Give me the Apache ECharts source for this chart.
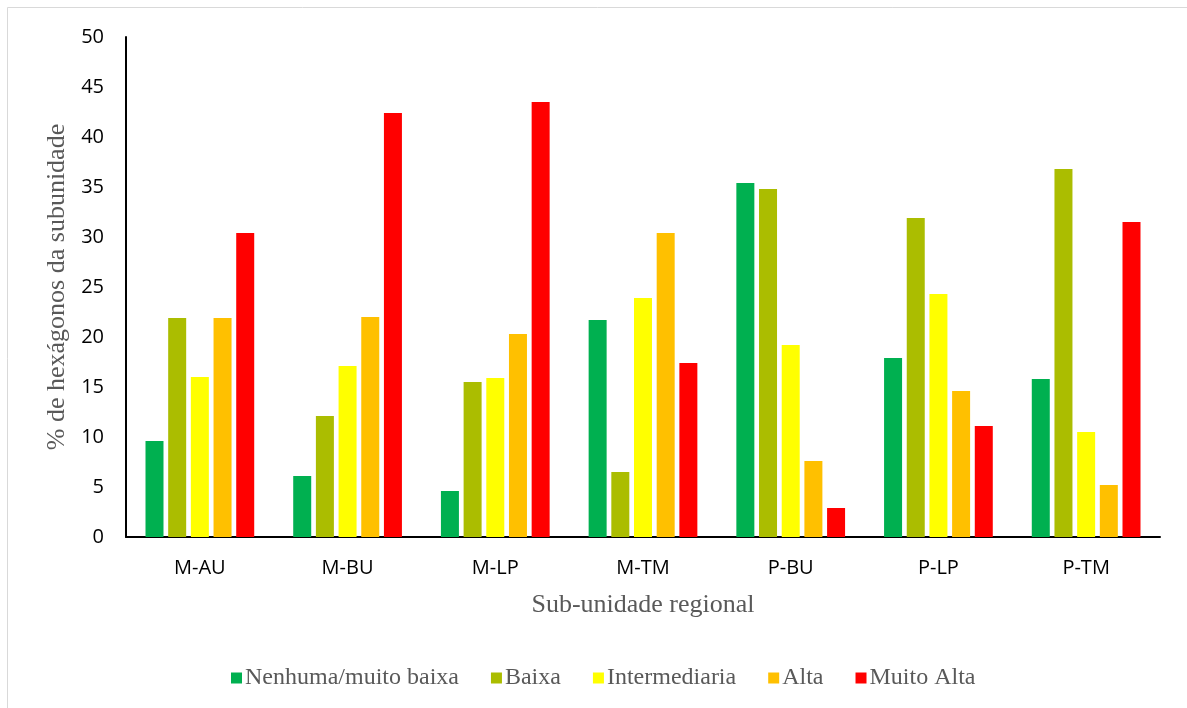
<!DOCTYPE html>
<html>
<head>
<meta charset="utf-8">
<script src="https://cdn.jsdelivr.net/npm/echarts@6/dist/echarts.min.js"></script>
<style>
  html, body { margin: 0; padding: 0; background: #fff; }
  #chart { width: 1187px; height: 708px; }
</style>
</head>
<body>
<div id="chart"></div>
<script>
// Sub-regional units on the horizontal axis
const categories = ['M-AU', 'M-BU', 'M-LP', 'M-TM', 'P-BU', 'P-LP', 'P-TM'];

// Share of hexagons (%) per class in each sub-unit
const nenhumaMuitoBaixa = [9.6, 6.1, 4.6, 21.7, 35.4, 17.9, 15.8];
const baixa             = [21.9, 12.1, 15.5, 6.5, 34.8, 31.9, 36.8];
const intermediaria     = [16.0, 17.1, 15.9, 23.9, 19.2, 24.3, 10.5];
const alta              = [21.9, 22.0, 20.3, 30.4, 7.6, 14.6, 5.2];
const muitoAlta         = [30.4, 42.4, 43.5, 17.4, 2.9, 11.1, 31.5];

const seriesNames = ['Nenhuma/muito baixa', 'Baixa', 'Intermediaria', 'Alta', 'Muito Alta'];
const seriesValues = [nenhumaMuitoBaixa, baixa, intermediaria, alta, muitoAlta];
const seriesColors = ['#00b050', '#abbd00', '#ffff00', '#ffc000', '#ff0000'];

const chart = echarts.init(document.getElementById('chart'), null, { renderer: 'canvas' });

const sansFont = '"Open Sans", "DejaVu Sans", sans-serif';
const serifFont = '"Liberation Serif", "DejaVu Serif", serif';

chart.setOption({
  animation: false,
  backgroundColor: '#ffffff',
  graphic: [{
    type: 'rect',
    shape: { x: 7.5, y: 7.5, width: 1190, height: 710 },
    style: { fill: 'none', stroke: '#d9d9d9', lineWidth: 1 },
    silent: true
  }],
  grid: { left: 126, right: 27, top: 37, bottom: 171, containLabel: false },
  legend: {
    data: seriesNames,
    left: 226,
    top: 661,
    itemWidth: 11,
    itemHeight: 11,
    itemGap: 32,
    icon: 'rect',
    textStyle: { fontFamily: serifFont, fontSize: 24, color: '#595959', padding: [0, 0, 0, -2] }
  },
  xAxis: {
    type: 'category',
    data: categories,
    name: 'Sub-unidade regional',
    nameLocation: 'middle',
    nameGap: 55,
    nameTextStyle: { fontFamily: serifFont, fontSize: 26, color: '#595959' },
    axisLine: { lineStyle: { color: '#000', width: 2 } },
    axisTick: { show: false },
    axisLabel: { fontFamily: sansFont, fontSize: 20, color: '#000', margin: 21 }
  },
  yAxis: {
    type: 'value',
    min: 0,
    max: 50,
    interval: 5,
    name: '% de hexágonos da subunidade',
    nameLocation: 'middle',
    nameGap: 52,
    nameTextStyle: { fontFamily: serifFont, fontSize: 26, color: '#595959' },
    axisLine: { show: true, lineStyle: { color: '#000', width: 2 } },
    axisTick: { show: false },
    splitLine: { show: false },
    axisLabel: { fontFamily: sansFont, fontSize: 20, color: '#000', margin: 22 }
  },
  series: seriesNames.map((name, i) => ({
    name: name,
    type: 'bar',
    data: seriesValues[i],
    barWidth: 18,
    barGap: '26%',
    itemStyle: { color: seriesColors[i] }
  }))
});
</script>
</body>
</html>
